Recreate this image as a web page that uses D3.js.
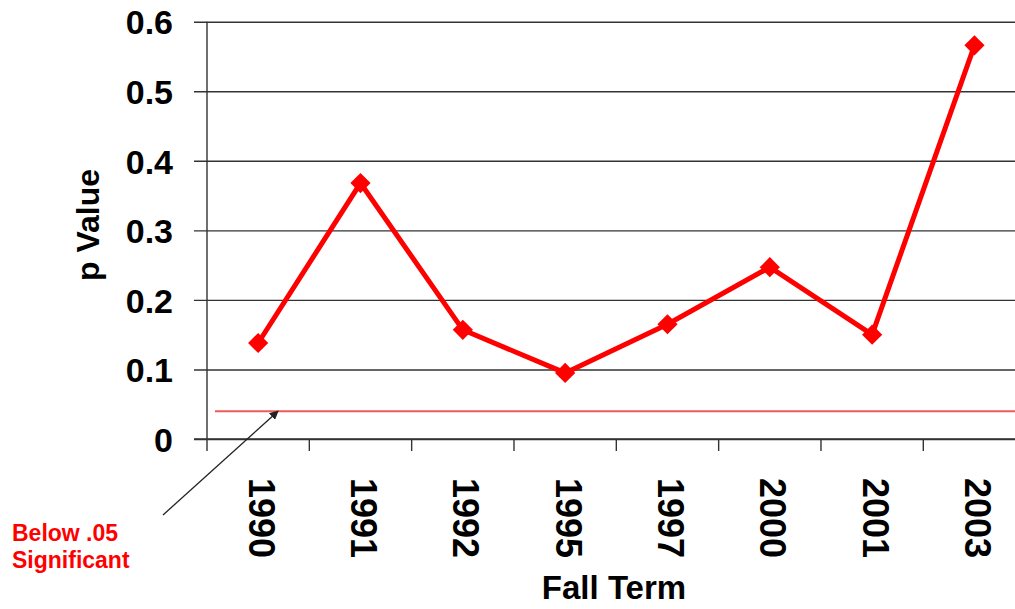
<!DOCTYPE html>
<html>
<head>
<meta charset="utf-8">
<script src="https://cdn.jsdelivr.net/npm/d3@7"></script>
<style>
    body { margin: 0; background: #fff; }
    svg { display: block; font-family: Arial, "Liberation Sans", sans-serif; }
</style>
</head>
<body>
<svg id="chart" width="1015" height="609"></svg>
<script>
// chart data
let terms = ["1990", "1991", "1992", "1995", "1997", "2000", "2001", "2003"];
let pValues = [0.138, 0.368, 0.157, 0.095, 0.165, 0.247, 0.15, 0.566];
let yTicks = [0, 0.1, 0.2, 0.3, 0.4, 0.5, 0.6];
let threshold = 0.04;

let svg = d3.select("#chart");
let margin = {left: 207, top: 21.7, bottom: 439};
let step = 102.33;

let xScale = d3.scaleBand()
    .domain(terms)
    .range([margin.left, margin.left + step * terms.length])
    .padding(0);

let yScale = d3.scaleLinear()
    .domain([0, 0.6])
    .range([margin.bottom, margin.top]);

// horizontal grid lines, including the outside tick marks
let yAxis = svg.append("g")
    .attr("transform", "translate(" + margin.left + ",0)")
    .call(d3.axisLeft(yScale)
        .tickValues(yTicks)
        .tickFormat(d3.format(".1~f"))
        .tickSizeInner(-(1015 - margin.left))
        .tickSizeOuter(0)
        .tickPadding(34));
yAxis.select(".domain").remove();
yAxis.selectAll(".tick line")
    .attr("x1", -13)
    .attr("stroke", "#333")
    .attr("stroke-width", 1.4);
yAxis.selectAll(".tick text")
    .attr("fill", "#000")
    .attr("font-size", "34px")
    .attr("font-weight", "bold")
    .attr("dy", "0.36em");

// vertical axis line
svg.append("line")
    .attr("x1", margin.left).attr("x2", margin.left)
    .attr("y1", margin.top).attr("y2", margin.bottom + 12)
    .attr("stroke", "#333")
    .attr("stroke-width", 1.4);

// x axis with ticks at band edges
let xAxis = svg.append("g");
xAxis.append("line")
    .attr("x1", 194).attr("x2", 1015)
    .attr("y1", margin.bottom).attr("y2", margin.bottom)
    .attr("stroke", "#333")
    .attr("stroke-width", 1.4);
xAxis.selectAll(".xtick")
    .data(terms.slice(1).concat(["end"]))
    .enter().append("line")
    .attr("class", "xtick")
    .attr("x1", (d, i) => xScale(terms[0]) + step * (i + 1))
    .attr("x2", (d, i) => xScale(terms[0]) + step * (i + 1))
    .attr("y1", margin.bottom)
    .attr("y2", margin.bottom + 12)
    .attr("stroke", "#333")
    .attr("stroke-width", 1.4);

// rotated year labels
xAxis.selectAll(".xlabel")
    .data(terms)
    .enter().append("text")
    .attr("class", "xlabel")
    .attr("transform", d => "translate(" + (xScale(d) + xScale.bandwidth() / 2 + 3) + ",478) rotate(90)")
    .attr("dy", "0.35em")
    .attr("font-size", "36px")
    .attr("font-weight", "bold")
    .attr("fill", "#000")
    .text(d => d);

// significance line
svg.append("line")
    .attr("x1", 215).attr("x2", 1015)
    .attr("y1", yScale(threshold)).attr("y2", yScale(threshold))
    .attr("stroke", "#f05a5a")
    .attr("stroke-width", 2);

// data line
let line = d3.line()
    .x((d, i) => xScale(terms[i]) + xScale.bandwidth() / 2)
    .y(d => yScale(d));

svg.append("path")
    .datum(pValues)
    .attr("d", line)
    .attr("fill", "none")
    .attr("stroke", "#ff0000")
    .attr("stroke-width", 5)
    .attr("stroke-linejoin", "miter");

// diamond markers
svg.selectAll(".marker")
    .data(pValues)
    .enter().append("path")
    .attr("class", "marker")
    .attr("d", d3.symbol().type(d3.symbolDiamond2).size(260))
    .attr("transform", (d, i) => "translate(" + (xScale(terms[i]) + xScale.bandwidth() / 2) + "," + yScale(d) + ")")
    .attr("fill", "#ff0000");

// axis titles
svg.append("text")
    .attr("transform", "translate(99,225) rotate(-90)")
    .attr("text-anchor", "middle")
    .attr("font-size", "32px")
    .attr("font-weight", "bold")
    .text("p Value");

svg.append("text")
    .attr("x", 614).attr("y", 599)
    .attr("text-anchor", "middle")
    .attr("font-size", "33px")
    .attr("font-weight", "bold")
    .text("Fall Term");

// annotation + arrow
let defs = svg.append("defs");
defs.append("marker")
    .attr("id", "arrow")
    .attr("viewBox", "0 0 10 10")
    .attr("refX", 9).attr("refY", 5)
    .attr("markerWidth", 9).attr("markerHeight", 9)
    .attr("markerUnits", "userSpaceOnUse")
    .attr("orient", "auto")
    .append("path")
    .attr("d", "M0,0L10,5L0,10Z")
    .attr("fill", "#222");

svg.append("line")
    .attr("x1", 163).attr("y1", 515)
    .attr("x2", 278).attr("y2", yScale(threshold))
    .attr("stroke", "#222")
    .attr("stroke-width", 1.3)
    .attr("marker-end", "url(#arrow)");

let note = svg.append("text")
    .attr("x", 12)
    .attr("font-size", "23px")
    .attr("font-weight", "bold")
    .attr("fill", "#ff0000");
note.append("tspan").attr("x", 12).attr("y", 541).text("Below .05");
note.append("tspan").attr("x", 12).attr("y", 568).text("Significant");
</script>
</body>
</html>
